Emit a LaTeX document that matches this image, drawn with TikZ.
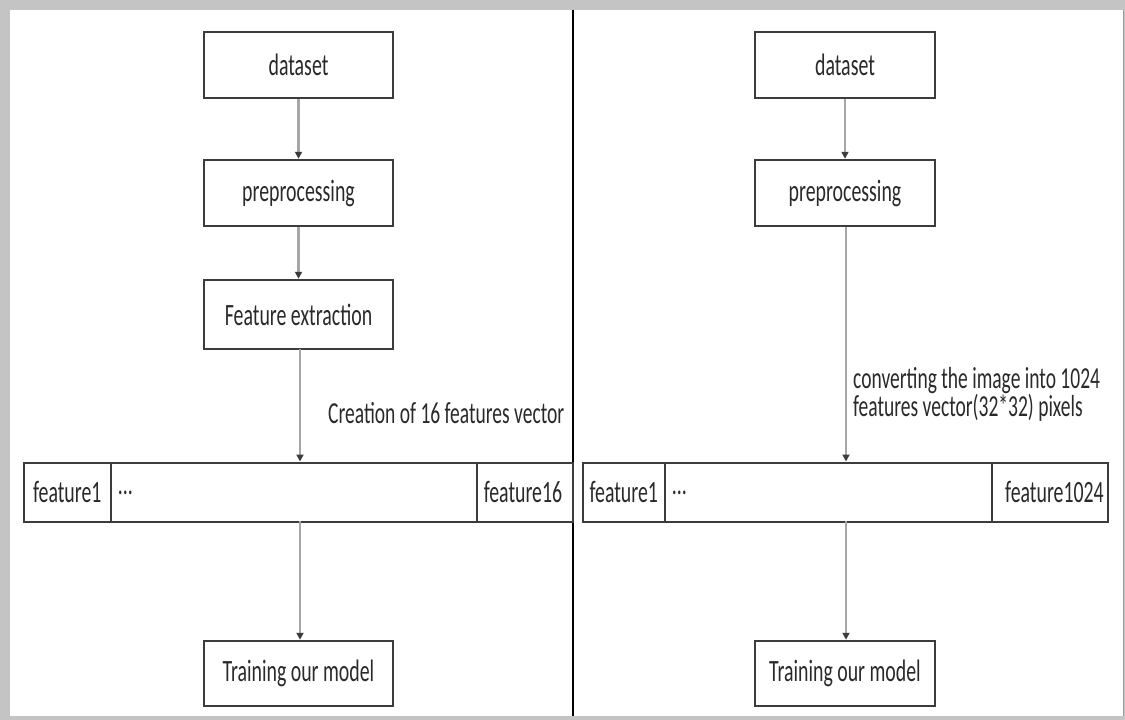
\documentclass[tikz,border=0pt]{standalone}
\usepackage{fontspec}
\setmainfont{Carlito}[FakeStretch=0.64]
\usetikzlibrary{arrows.meta}
\definecolor{boxline}{HTML}{3C3C3C}
\definecolor{txt}{HTML}{2A2A2A}
\definecolor{arrowline}{HTML}{A6A6A6}
\definecolor{frame}{HTML}{C4C4C4}
\begin{document}
\begin{tikzpicture}[x=1pt,y=-1pt,
  every node/.style={font=\fontsize{31}{34}\selectfont, text=txt},
  stepbox/.style={draw=boxline, line width=1.5pt, fill=white, minimum height=66, inner sep=0pt},
  cell/.style={draw=boxline, line width=1.5pt, minimum height=59, inner sep=0pt, anchor=north west, text depth=0pt},
  flow/.style={draw=arrowline, line width=2.4pt,
    -{Triangle[width=7pt,length=7pt,color=boxline]}, shorten >=0.5pt},
  note/.style={anchor=west, align=left, inner sep=0pt, font=\fontsize{30.5}{28}\selectfont}]
  % page frame
  \useasboundingbox (0,0) rectangle (1125,720);
  \fill[frame] (0,0) rectangle (1125,720);
  \fill[white] (10,10) rectangle (1123,716);
  \draw[frame!80!black, line width=0.6pt] (1123,10) -- (1123,716);
  % divider between the two pipelines
  \draw[black, line width=1.4pt] (573,10) -- (573,716);

  % left pipeline
  \node[stepbox, minimum width=189] (dsL) at (298.5,65) {dataset};
  \node[stepbox, minimum width=189] (ppL) at (298.5,193) {preprocessing};
  \node[stepbox, minimum width=189, minimum height=69] (feL) at (298.5,314.5) {Feature extraction};
  \node[cell, minimum width=87] (f1L) at (23,462) {feature1};
  \node[cell, minimum width=366, text width=352, align=left] (midL) at (110,462) {...};
  \node[cell, minimum width=96, text width=82, align=left] (f16L) at (476,462) {feature16};
  \node[stepbox, minimum width=189, minimum height=65] (trL) at (298.5,673.5) {Training our model};
  \coordinate (rowTopL) at (300,462);
  \coordinate (rowBotL) at (300,521);

  \draw[flow] (dsL.south) -- (ppL.north);
  \draw[flow] (ppL.south) -- (feL.north);
  \draw[flow] (300,349) -- (rowTopL);
  \draw[flow] (rowBotL) -- (trL.north -| rowBotL);
  \node[note] (lblL) at (328,413) {Creation of 16 features vector};

  % right pipeline
  \node[stepbox, minimum width=180] (dsR) at (845,65) {dataset};
  \node[stepbox, minimum width=180] (ppR) at (845,193) {preprocessing};
  \node[cell, minimum width=82] (f1R) at (582,462) {feature1};
  \node[cell, minimum width=327, text width=313, align=left] (midR) at (664,462) {...};
  \node[cell, minimum width=116, text width=108, align=right] (f1024R) at (991,462) {feature1024};
  \node[stepbox, minimum width=180, minimum height=65] (trR) at (845,673.5) {Training our model};
  \coordinate (rowTopR) at (846,462);
  \coordinate (rowBotR) at (846,521);

  \draw[flow] (dsR.south) -- (ppR.north);
  \draw[flow] (ppR.south -| rowTopR) -- (rowTopR);
  \draw[flow] (rowBotR) -- (trR.north -| rowBotR);
  \node[note] (lblR) at (853,394) {converting the image into 1024\\features vector(32*32) pixels};
\end{tikzpicture}
\end{document}
